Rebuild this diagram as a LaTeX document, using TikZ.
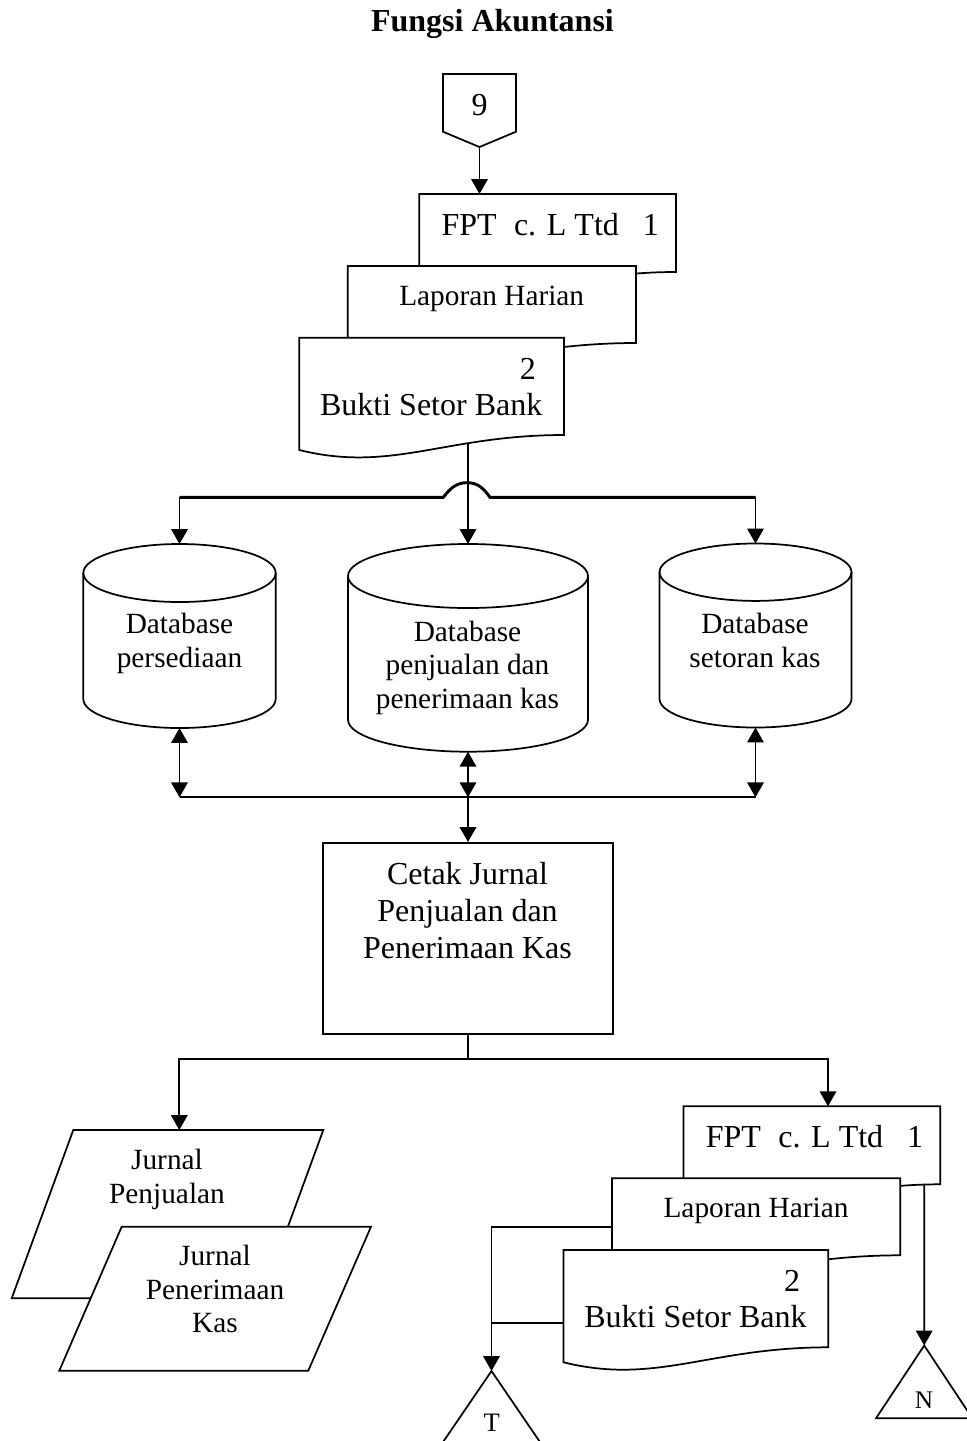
\documentclass[tikz,border=0pt]{standalone}
\usepackage{fontspec}
\setmainfont{Liberation Serif}
\usetikzlibrary{arrows.meta}

\tikzset{
  panah/.style={-{Triangle[length=5.6pt,width=6.2pt]}},
  panah2/.style={{Triangle[length=5.6pt,width=6.2pt]}-{Triangle[length=5.6pt,width=6.2pt]}},
  teks/.style={inner sep=0pt, font=\fontsize{11}{12.6}\selectfont},
  teksbesar/.style={inner sep=0pt, font=\fontsize{12}{13.9}\selectfont},
  teksgaris/.style={inner sep=0pt, font=\fontsize{10}{12}\selectfont},
}

% dokumen: kiri, atas, kanan, bawah kanan
\newcommand{\dokumen}[4]{%
  \draw[fill=white] (#1,#2) -- (#3,#2) -- (#3,#4)
    .. controls ({#3-0.45*(#3-#1)},#4) and ({#1+0.35*(#3-#1)},{#4+38}) .. (#1,{#4+15}) -- cycle;}

% silinder: x tengah, atas, bawah, rx, ry
\newcommand{\silinder}[5]{%
  \draw (#1,{#2+#5}) ellipse[x radius=#4, y radius=#5];
  \draw ({#1-#4},{#2+#5}) -- ({#1-#4},{#3-#5})
    arc[start angle=180, end angle=0, x radius=#4, y radius=#5] -- ({#1+#4},{#2+#5});}

% tumpukan FPT, laporan harian, bukti setor bank
\newcommand{\tumpukan}[1]{%
  \dokumen{419.3}{194}{676}{272}
  \node[teksbesar, anchor=base west] (#1fpt) at (440.7,235) {FPT\hspace{6.5pt}c. L Ttd\hspace{9pt}1};
  \dokumen{347.7}{266}{636}{343}
  \node[teks, anchor=base] (#1lap) at (491.7,305) {Laporan Harian};
  \dokumen{299.3}{337.7}{564}{435}
  \node[teksbesar, anchor=base] (#1dua) at (527.8,379.3) {2};
  \node[teksbesar, anchor=base] (#1bsb) at (431.2,415) {Bukti Setor Bank};
  \coordinate (#1atas) at (419.3,194);
  \coordinate (#1bawah) at (468,443.3);
  \coordinate (#1kiri) at (347.7,315);
  \coordinate (#1kiribawah) at (299.3,410.4);
  \coordinate (#1kanan) at (659.9,272);}

\begin{document}
\begin{tikzpicture}[x=0.375pt, y=-0.375pt, line width=0.65pt]
\fill[white] (0,0) rectangle (966,1441);
\useasboundingbox (0,0) rectangle (966,1441);

\node[inner sep=0pt, font=\fontsize{12}{14}\selectfont\bfseries, anchor=base] (judul) at (492.5,31) {Fungsi Akuntansi};

% penghubung halaman
\draw (443,74) -- (516,74) -- (516,131.7) -- (479.5,147) -- (443,131.7) -- cycle;
\node[teksbesar, anchor=base] (hal9) at (479.5,115) {9};
\coordinate (hal9ujung) at (479.5,147);

\tumpukan{a}
\draw[panah] (hal9ujung) -- (hal9ujung |- aatas);

% database
\silinder{179.5}{544}{728}{96.2}{29}
\silinder{468}{544}{751.7}{120}{32}
\silinder{755.5}{543.5}{727.5}{96}{28.7}
\node[teks, align=center, anchor=north] (db1) at (179.5,612.6) {Database\\persediaan};
\node[teks, align=center, anchor=north] (db2) at (467.5,620.1) {Database\\penjualan dan\\penerimaan kas};
\node[teks, align=center, anchor=north] (db3) at (755,612.6) {Database\\setoran kas};
\coordinate (db1atas) at (179.5,544);
\coordinate (db1bawah) at (179.5,728);
\coordinate (db2atas) at (468,544);
\coordinate (db2bawah) at (468,751.7);
\coordinate (db3atas) at (755.5,543.5);
\coordinate (db3bawah) at (755.5,727.5);

\coordinate (cab1) at (179.5,497.3);
\coordinate (cab3) at (755.5,497.3);
\draw[line width=1.1pt] (cab1) -- (443.3,497.3)
  .. controls (452,486) and (458,482.7) .. (467,482.7)
  .. controls (476,482.7) and (482,486) .. (490,497.3) -- (cab3);
\draw[panah] (cab1) -- (db1atas);
\draw[panah] (cab3) -- (db3atas);
\draw[panah] (abawah) -- (db2atas);

% ke proses cetak
\coordinate (bus1) at (179.5,797.3);
\coordinate (bus2) at (468,797.3);
\coordinate (bus3) at (755.5,797.3);
\draw (bus1) -- (bus3);
\draw[panah2] (db1bawah) -- (bus1);
\draw[panah2] (db2bawah) -- (bus2);
\draw[panah2] (db3bawah) -- (bus3);

\node[draw, minimum width=108.5pt, minimum height=71.7pt] (cetak) at (468,938.4) {};
\node[teksbesar, align=center, anchor=north] (cetakteks) at (467.5,861.6) {Cetak Jurnal\\Penjualan dan\\Penerimaan Kas};
\draw[panah] (bus2) -- (cetak.north);

% keluaran
\coordinate (pisah) at (468,1059.3);
\coordinate (jp) at (179.3,1130);
\coordinate (fpt2masuk) at (828,1106.3);
\draw (cetak.south) -- (pisah);
\draw[panah] (pisah) -| (jp);
\draw[panah] (pisah) -| (fpt2masuk);

\draw[fill=white] (73.3,1130) -- (323.3,1130) -- (261.7,1298.3) -- (11.7,1298.3) -- cycle;
\node[teks, align=center, anchor=north] (jurnal1) at (167,1148.4) {Jurnal\\Penjualan};
\draw[fill=white] (121.7,1226.7) -- (371,1226.7) -- (308.3,1370.7) -- (59.3,1370.7) -- cycle;
\node[teks, align=center, anchor=north] (jurnal2) at (215,1244.4) {Jurnal\\Penerimaan\\Kas};

\begin{scope}[shift={(264.3,912.3)}]
  \tumpukan{b}
\end{scope}

% penghubung T dan N
\coordinate (tpuncak) at (491.5,1371);
\draw (tpuncak) -- (441,1445) -- (542,1445) -- cycle;
\node[teksgaris, anchor=base] (konT) at (491.7,1431.7) {T};
\draw[panah] (bkiri) -| (tpuncak);
\draw (bkiribawah) -- (bkiribawah -| tpuncak);

\coordinate (npuncak) at (924.2,1345.5);
\draw (npuncak) -- (876,1418.3) -- (972.4,1418.3) -- cycle;
\node[inner sep=0pt, font=\fontsize{9.5}{11}\selectfont, anchor=base] (konN) at (924,1408.3) {N};
\draw[panah] (bkanan) -- (npuncak);
\end{tikzpicture}
\end{document}
